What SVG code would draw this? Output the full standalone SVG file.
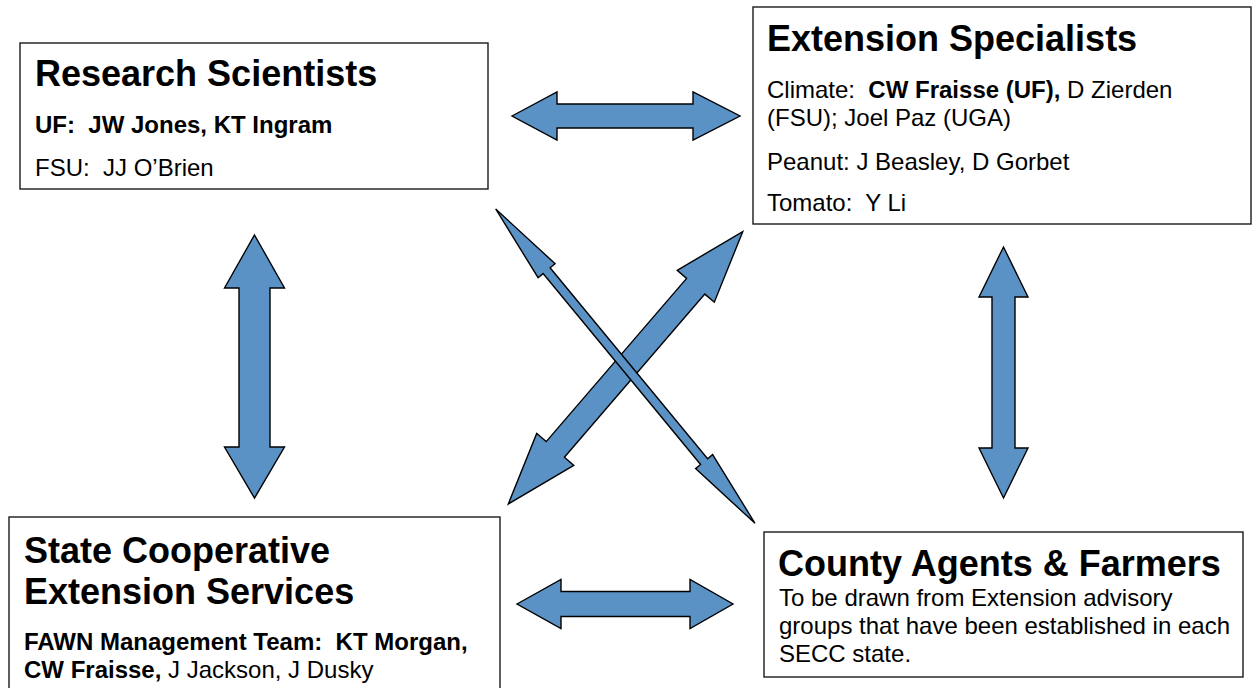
<svg xmlns="http://www.w3.org/2000/svg" width="1252" height="688" viewBox="0 0 1252 688">
<style>
.box{fill:#fff;stroke:#1a1a1a;stroke-width:1.4}
.arr{fill:#5b92c6;stroke:#000;stroke-width:1.4;stroke-linejoin:miter}
text{font-family:"Liberation Sans",Arial,sans-serif;fill:#000;white-space:pre}
.t{font-size:36px;font-weight:bold}
.b{font-size:24px}
.bb{font-weight:bold}
</style>
<rect width="1252" height="688" fill="#fff"/>
<g id="connectors">
<polygon class="arr" points="512,116 557,92 557,104 693,104 693,92 740,116 693,140 693,128 557,128 557,140"/>
<polygon class="arr" points="517,604 561,579.5 561,591.5 690,591.5 690,579.5 733,604 690,628.5 690,616.5 561,616.5 561,628.5"/>
<polygon class="arr" points="254.5,235 284.5,288 270,288 270,447 284.5,447 254.5,498 224.5,447 239,447 239,288 224.5,288"/>
<polygon class="arr" points="1003.5,247 1028,297 1015,297 1015,448 1028,448 1003.5,498 979,448 992,448 992,297 979,297"/>
<polygon class="arr" points="742.7,231.7 714.3,302.2 704.8,294.1 564.4,457.3 573.8,465.4 508.3,504 536.7,433.5 546.2,441.6 686.6,278.4 677.2,270.3"/>
<polygon class="arr" points="495.7,209 555.1,263.7 550.1,267.8 707.6,458.7 712.6,454.6 755,523.3 695.6,468.6 700.6,464.5 543.1,273.6 538.1,277.7"/>
</g>
<g id="research-scientists">
<rect class="box" x="20" y="43" width="468" height="146"/>
<text class="t" x="35" y="86" xml:space="preserve">Research Scientists</text>
<text class="b bb" x="35" y="133" xml:space="preserve">UF:  JW Jones, KT Ingram</text>
<text class="b" x="35" y="176" xml:space="preserve">FSU:  JJ O’Brien</text>
</g>
<g id="extension-specialists">
<rect class="box" x="753" y="7" width="498" height="217"/>
<text class="t" x="767" y="51" xml:space="preserve">Extension Specialists</text>
<text class="b" x="767" y="98" xml:space="preserve">Climate:  <tspan class="bb">CW Fraisse (UF),</tspan> D Zierden</text>
<text class="b" x="767" y="126" xml:space="preserve">(FSU); Joel Paz (UGA)</text>
<text class="b" x="767" y="170" xml:space="preserve">Peanut: J Beasley, D Gorbet</text>
<text class="b" x="767" y="211" xml:space="preserve">Tomato:  Y Li</text>
</g>
<g id="state-cooperative-extension">
<rect class="box" x="9" y="517" width="491" height="185"/>
<text class="t" x="24" y="563" xml:space="preserve">State Cooperative</text>
<text class="t" x="24" y="604" xml:space="preserve">Extension Services</text>
<text class="b bb" x="24" y="650" xml:space="preserve">FAWN Management Team:  KT Morgan,</text>
<text class="b" x="24" y="678" xml:space="preserve"><tspan class="bb">CW Fraisse,</tspan> J Jackson, J Dusky</text>
</g>
<g id="county-agents-farmers">
<rect class="box" x="764" y="532" width="479" height="145"/>
<text class="t" x="778" y="576" xml:space="preserve">County Agents &amp; Farmers</text>
<text class="b" x="779" y="606" xml:space="preserve">To be drawn from Extension advisory</text>
<text class="b" x="779" y="634" xml:space="preserve">groups that have been established in each</text>
<text class="b" x="779" y="662" xml:space="preserve">SECC state.</text>
</g>
</svg>
